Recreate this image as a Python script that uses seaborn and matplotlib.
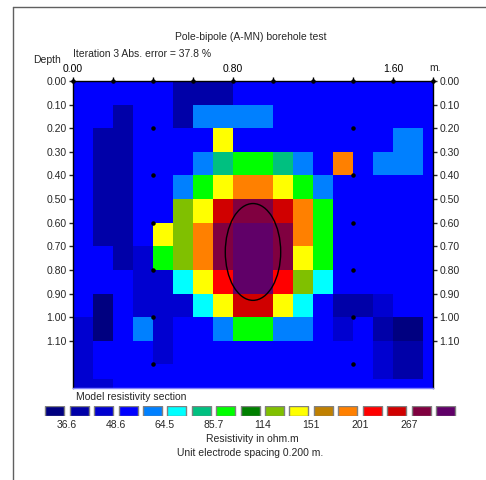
import numpy as np
import matplotlib
matplotlib.use("Agg")
import matplotlib.pyplot as plt
from matplotlib.colors import ListedColormap
from matplotlib.patches import Ellipse
from matplotlib.lines import Line2D
import seaborn as sns

# colour classes of the section, lowest to highest resistivity
level_colors = ["#000080", "#0000a8", "#0000d0", "#0000ff", "#0080ff", "#00ffff",
                "#00c080", "#00ff00", "#008000", "#80c000", "#ffff00", "#c08000",
                "#ff8000", "#ff0000", "#d00000", "#800040", "#600068"]
legend_values = ["36.6", "48.6", "64.5", "85.7", "114", "151", "201", "267"]

# model block edges (m)
x_edges = [0.0, 0.1, 0.2, 0.3, 0.4, 0.5, 0.6, 0.7, 0.8, 0.9, 1.0, 1.1, 1.2,
           1.3, 1.4, 1.5, 1.6, 1.75, 1.8]
depth_edges = [0.0, 0.1, 0.2, 0.3, 0.4, 0.5, 0.6, 0.7, 0.8, 0.9, 1.0, 1.1,
               1.2, 1.26, 1.3]

# colour class of every model block (rows = depth, cols = x)
model_levels = np.array([
    [3, 3, 3, 3, 3, 1, 1, 1, 3, 3, 3, 3, 3, 3, 3, 3, 3, 3],
    [3, 3, 1, 3, 3, 1, 4, 4, 4, 4, 3, 3, 3, 3, 3, 3, 3, 3],
    [3, 1, 1, 3, 3, 3, 3, 10, 3, 3, 3, 3, 3, 3, 3, 3, 4, 3],
    [3, 1, 1, 3, 3, 3, 4, 6, 7, 7, 6, 4, 3, 12, 3, 4, 4, 3],
    [3, 1, 1, 3, 3, 4, 7, 10, 12, 12, 10, 7, 4, 3, 3, 3, 3, 3],
    [3, 1, 1, 3, 3, 9, 10, 14, 15, 15, 14, 12, 7, 3, 3, 3, 3, 3],
    [3, 1, 1, 3, 10, 9, 12, 15, 16, 16, 15, 12, 7, 3, 3, 3, 3, 3],
    [3, 3, 1, 2, 7, 9, 12, 15, 16, 16, 15, 10, 7, 3, 3, 3, 3, 3],
    [3, 3, 3, 2, 2, 5, 10, 13, 16, 16, 13, 9, 5, 3, 3, 3, 3, 3],
    [3, 0, 3, 2, 2, 2, 5, 10, 14, 14, 10, 5, 3, 1, 1, 2, 3, 3],
    [2, 0, 3, 4, 2, 3, 3, 4, 7, 7, 4, 4, 3, 2, 3, 1, 0, 3],
    [2, 3, 3, 3, 2, 3, 3, 3, 3, 3, 3, 3, 3, 3, 3, 2, 1, 3],
    [2, 3, 3, 3, 3, 3, 3, 3, 3, 3, 3, 3, 3, 3, 3, 2, 1, 3],
    [2, 2, 3, 3, 3, 3, 3, 3, 3, 3, 3, 3, 3, 3, 3, 3, 3, 3],
])

electrode_x = [0.4, 1.4]
electrode_depth = [0.2, 0.4, 0.6, 0.8, 1.0, 1.2]
x_ticks = [0.0, 0.2, 0.4, 0.6, 0.8, 1.0, 1.2, 1.4, 1.6, 1.8]
x_tick_labels = ["0.00", "", "", "", "0.80", "", "", "", "1.60", ""]
depth_ticks = [0.0, 0.1, 0.2, 0.3, 0.4, 0.5, 0.6, 0.7, 0.8, 0.9, 1.0, 1.1]

# heatmap works on equal cells, so blocks are expanded onto a fine grid
DX, DZ = 0.05, 0.02
x_counts = np.rint(np.diff(x_edges) / DX).astype(int)
z_counts = np.rint(np.diff(depth_edges) / DZ).astype(int)
grid = np.repeat(np.repeat(model_levels, z_counts, axis=0), x_counts, axis=1)

sns.set_style("white")
plt.rcParams["font.family"] = ["Liberation Sans", "DejaVu Sans"]
plt.rcParams["font.size"] = 7.5

fig = plt.figure(figsize=(4.86, 4.80), dpi=100)
ax = fig.add_axes([0.1502, 0.1917, 0.7407, 0.6396])

cmap = ListedColormap(level_colors)
sns.heatmap(grid, ax=ax, cmap=cmap, vmin=-0.5, vmax=len(level_colors) - 0.5,
            cbar=False, xticklabels=False, yticklabels=False)

for name, sp in ax.spines.items():
    sp.set_visible(True)
    sp.set_color("black")
    sp.set_linewidth(1)
ax.spines["bottom"].set_color("#8080ff")

ax.xaxis.tick_top()
ax.set_xticks([x / DX for x in x_ticks])
ax.set_xticklabels(x_tick_labels)
ax.set_yticks([d / DZ for d in depth_ticks])
ax.set_yticklabels([f"{d:.2f}" for d in depth_ticks])
ax.tick_params(axis="x", top=True, bottom=False, length=3, width=1, pad=2,
               direction="out", colors="black", labelsize=7.5)
ax.tick_params(axis="y", left=True, right=True, labelleft=True, labelright=True,
               length=3, width=1, pad=1.5, direction="out", labelsize=7.5)
ax.set_xlabel("")
ax.set_ylabel("")

# electrodes along the two boreholes and along the surface
ex, ez = np.meshgrid(electrode_x, electrode_depth)
ax.scatter(ex.ravel() / DX, ez.ravel() / DZ, s=5, color="black", zorder=3)
ax.scatter([x / DX for x in x_ticks], [0] * len(x_ticks), s=5, color="black",
           zorder=4, clip_on=False)

ax.add_patch(Ellipse((0.9 / DX, 0.724 / DZ), 0.277 / DX, 0.41 / DZ,
                     fill=False, edgecolor="black", linewidth=1, zorder=3))

fig.text(0.516, 0.923, "Pole-bipole (A-MN) borehole test", ha="center", va="center")
fig.text(0.150, 0.8875, "Iteration 3 Abs. error = 37.8 %", ha="left", va="center")
fig.text(0.0686, 0.875, "Depth", ha="left", va="center")
fig.text(0.895, 0.858, "m.", ha="center", va="center")
fig.text(0.156, 0.173, "Model resistivity section", ha="left", va="center")
fig.text(0.5185, 0.0854, "Resistivity in ohm.m", ha="center", va="center")
fig.text(0.514, 0.056, "Unit electrode spacing 0.200 m.", ha="center", va="center")

# colour legend boxes
lax = fig.add_axes([0.0877, 0.1333, 0.854, 0.0208])
lax.bar(np.arange(len(level_colors)), 1, width=0.78, bottom=0,
        color=level_colors, edgecolor="#808080", linewidth=1)
lax.set_xlim(-0.5, len(level_colors) - 0.5)
lax.set_ylim(0, 1)
lax.axis("off")
for k, val in enumerate(legend_values):
    lax.text(2 * k + 0.5, -0.9, val, ha="center", va="center")

# page frame
fig.add_artist(Line2D([0.0267, 0.0267], [0.0, 0.985], color="#606060", linewidth=1))
fig.add_artist(Line2D([0.0267, 1.0], [0.985, 0.985], color="#606060", linewidth=1))

fig.savefig("out.png", dpi=100)
